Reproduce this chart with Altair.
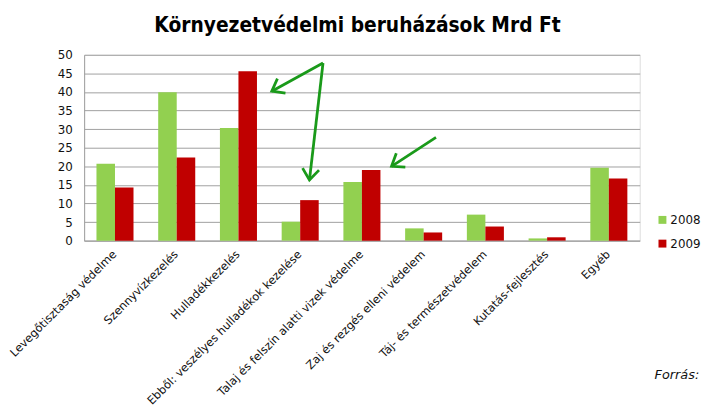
import altair as alt
import pandas as pd

cats = [
    "Levegőtisztaság védelme",
    "Szennyvízkezelés",
    "Hulladékkezelés",
    "Ebből: veszélyes hulladékok kezelése",
    "Talaj és felszín alatti vizek védelme",
    "Zaj és rezgés elleni védelem",
    "Táj- és természetvédelem",
    "Kutatás-fejlesztés",
    "Egyéb",
]
years = ["2008", "2009"]
v2008 = [20.7, 39.9, 30.3, 5.1, 15.8, 3.3, 7.0, 0.6, 19.6]
v2009 = [14.3, 22.4, 45.6, 10.9, 19.0, 2.2, 3.8, 0.9, 16.7]
y_ticks = [0, 5, 10, 15, 20, 25, 30, 35, 40, 45, 50]

# annotation arrows, in category units (x) and value units (y)
arrow_x1 = [3.87, 3.87, 5.70]
arrow_y1 = [47.8, 47.8, 27.8]
arrow_x2 = [3.04, 3.65, 4.98]
arrow_y2 = [40.2, 16.3, 20.0]
arrow_angle = [151, 97, 147]

title_text = "Környezetvédelmi beruházások Mrd Ft"
source_text = ["Forrás:"]

GREEN = "#92d050"
RED = "#c00000"
ARROW = "#1a9a1a"
GRID = "#a0a0a0"
TXT = "#111111"

rows = []
for c, a, b in zip(cats, v2008, v2009):
    rows.append({"cat": c, "year": years[0], "val": a})
    rows.append({"cat": c, "year": years[1], "val": b})
df = pd.DataFrame(rows)

arr = pd.DataFrame({"ax": arrow_x1, "val": arrow_y1, "ax2": arrow_x2,
                    "val2": arrow_y2, "ang": arrow_angle})

yscale = alt.Scale(domain=[0, 50], nice=False)
xq = alt.Scale(domain=[0, 9], nice=False)


def y_axis():
    return alt.Axis(title=None, values=y_ticks, grid=True, gridColor=GRID,
                    ticks=False, domainColor=GRID, labelFont="DejaVu Sans",
                    labelFontSize=12, labelColor=TXT, labelPadding=12,
                    labelOverlap=False)


bars = alt.Chart(df).mark_bar().encode(
    x=alt.X("cat:N", sort=cats,
            scale=alt.Scale(paddingInner=0.4, paddingOuter=0.2),
            axis=alt.Axis(title=None, labelAngle=-45, labelAlign="right",
                          labelBaseline="middle", labelFont="DejaVu Sans",
                          labelFontSize=11.5, labelColor=TXT, ticks=False,
                          domainColor=GRID, labelPadding=12, labelLimit=0)),
    xOffset=alt.XOffset("year:N", sort=years),
    y=alt.Y("val:Q", scale=yscale, axis=y_axis()),
    color=alt.Color("year:N",
                    scale=alt.Scale(domain=years, range=[GREEN, RED]),
                    legend=alt.Legend(title=None, orient="none", legendX=579,
                                      legendY=161, symbolType="square",
                                      symbolSize=64, symbolStrokeWidth=0,
                                      labelFont="DejaVu Sans", labelFontSize=12,
                                      labelColor=TXT, rowPadding=12,
                                      labelOffset=2, padding=0)),
)

lines = alt.Chart(arr).mark_rule(color=ARROW, strokeWidth=2.8).encode(
    x=alt.X("ax:Q", scale=xq, axis=None),
    x2="ax2:Q",
    y=alt.Y("val:Q", scale=yscale, axis=y_axis()),
    y2="val2:Q",
)

heads = alt.Chart(arr).mark_point(
    shape="M-1,-0.75L0,0L-1,0.75", filled=False, color=ARROW,
    strokeWidth=2.8, size=500, opacity=1
).encode(
    x=alt.X("ax2:Q", scale=xq, axis=None),
    y=alt.Y("val2:Q", scale=yscale, axis=y_axis()),
    angle=alt.Angle("ang:Q", scale=None),
)

src = alt.Chart(pd.DataFrame({"t": source_text})).mark_text(
    font="DejaVu Sans", fontStyle="italic", fontSize=13, align="left",
    baseline="alphabetic", color=TXT
).encode(x=alt.value(577), y=alt.value(328), text="t:N")

chart = alt.layer(bars, lines, heads, src).resolve_scale(
    x="independent"
).properties(
    width=562, height=188,
    title=alt.TitleParams(title_text, font="DejaVu Sans Condensed",
                          fontWeight="bold", fontSize=21, anchor="start",
                          frame="group", dx=71, offset=-4, color="#000000",
                          baseline="alphabetic"),
    autosize=alt.AutoSizeParams(type="none"),
    padding={"left": 77, "top": 45, "right": 62, "bottom": 171},
).configure_view(stroke=None).configure(background="white")

chart.save("out.html", embed_options={"renderer": "svg", "actions": False})
